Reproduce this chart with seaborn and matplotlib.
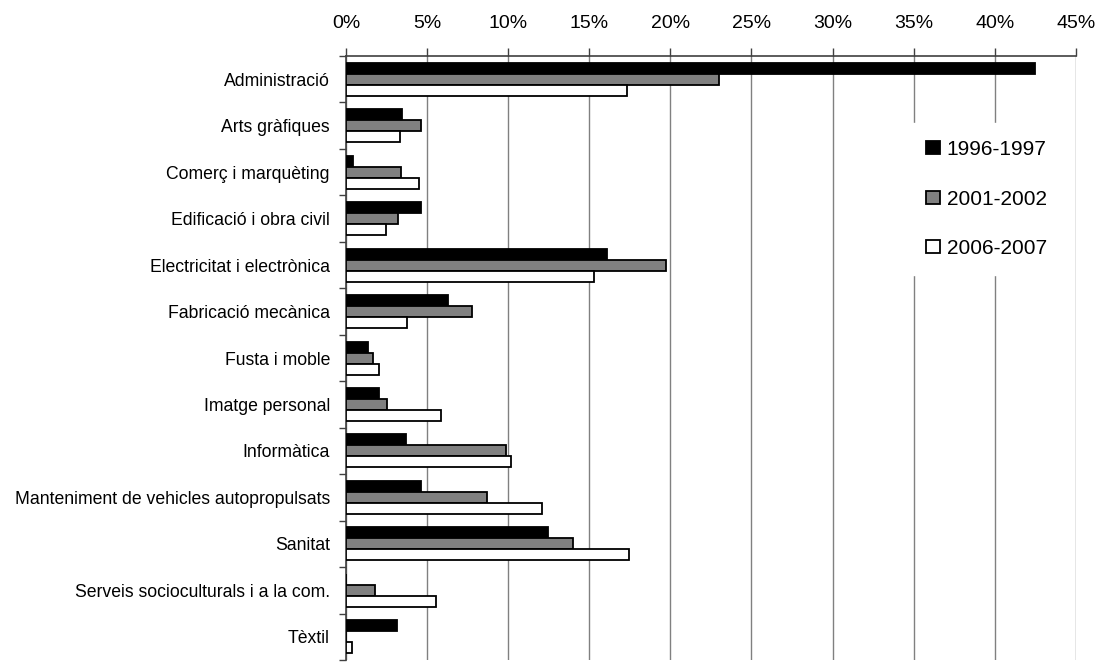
import numpy as np
import pandas as pd
import matplotlib
matplotlib.use('Agg')
import matplotlib.pyplot as plt
from matplotlib.patches import Patch
from matplotlib.ticker import FixedLocator, PercentFormatter
import seaborn as sns

# Dades
families = ['Administració', 'Arts gràfiques', 'Comerç i marquèting',
            'Edificació i obra civil', 'Electricitat i electrònica',
            'Fabricació mecànica', 'Fusta i moble', 'Imatge personal',
            'Informàtica', 'Manteniment de vehicles autopropulsats',
            'Sanitat', 'Serveis socioculturals i a la com.', 'Tèxtil']
cursos = ['1996-1997', '2001-2002', '2006-2007']
v_1996 = [42.5, 3.47, 0.41, 4.65, 16.1, 6.26, 1.33, 2.05, 3.69, 4.64, 12.47, 0.0, 3.12]
v_2001 = [23.0, 4.62, 3.42, 3.20, 19.7, 7.78, 1.64, 2.50, 9.85, 8.72, 13.97, 1.76, 0.0]
v_2006 = [17.35, 3.32, 4.49, 2.48, 15.26, 3.78, 2.01, 5.87, 10.2, 12.1, 17.46, 5.54, 0.39]

df = pd.DataFrame({'Familia': families * 3,
                   'Curs': [cursos[0]] * 13 + [cursos[1]] * 13 + [cursos[2]] * 13,
                   'Valor': v_1996 + v_2001 + v_2006})

colors = ['#000000', '#808080', '#ffffff']

plt.rcParams['font.family'] = ['Liberation Sans', 'DejaVu Sans']
fig = plt.figure(figsize=(10.99, 6.63), dpi=100)
ax = fig.add_axes([0.3148, 0.0045, 0.6642, 0.911])

sns.barplot(data=df, y='Familia', x='Valor', hue='Curs', orient='h',
            palette=colors, edgecolor='black', linewidth=1.3, width=0.71,
            saturation=1, legend=False, ax=ax, zorder=3)

ax.set_xlim(0, 45)
ax.set_xticks(np.arange(0, 46, 5))
ax.xaxis.set_major_formatter(PercentFormatter(decimals=0))
ax.xaxis.tick_top()
ax.tick_params(axis='x', which='major', length=6, width=1, color='#404040',
               labelsize=14, pad=11)
ax.grid(axis='x', color='#808080', linewidth=1, zorder=0)
ax.set_axisbelow(True)

ax.tick_params(axis='y', which='major', length=0, labelsize=12.7, pad=11.5)
ax.yaxis.set_minor_locator(FixedLocator(np.arange(-0.5, 13.0, 1)))
ax.tick_params(axis='y', which='minor', length=5, width=1, color='#404040')

ax.set_xlabel('')
ax.set_ylabel('')
for s in ['right', 'bottom']:
    ax.spines[s].set_visible(False)
for s in ['top', 'left']:
    ax.spines[s].set_color('#404040')
    ax.spines[s].set_linewidth(1.2)

handles = [Patch(facecolor=c, edgecolor='black', linewidth=1.3) for c in colors]
leg = ax.legend(handles, cursos, loc='upper left', bbox_to_anchor=(0.7575, 0.9056),
                fontsize=15, frameon=True, fancybox=False, framealpha=1,
                edgecolor='white', handlelength=0.65, handleheight=0.6,
                handletextpad=0.35, labelspacing=1.46, borderpad=0.8)
leg.set_zorder(5)

plt.savefig('out.png', dpi=100)
